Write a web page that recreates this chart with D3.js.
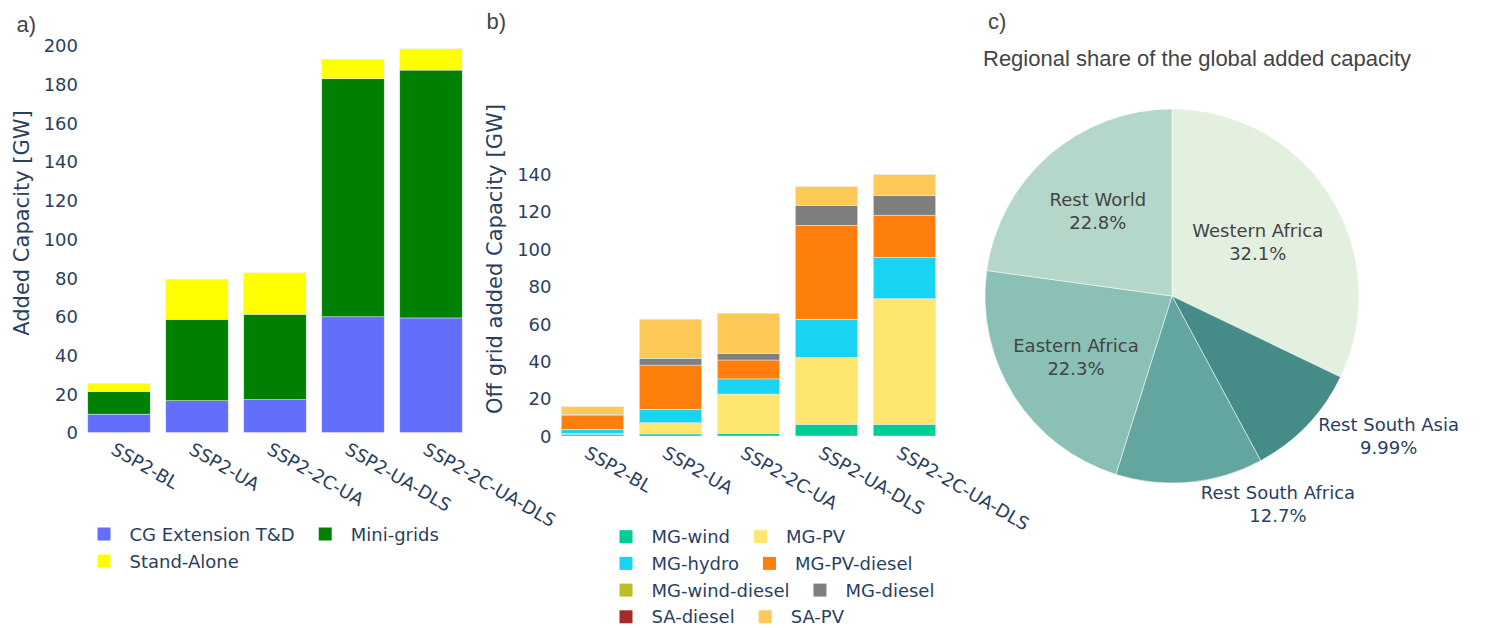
<!DOCTYPE html>
<html>
<head>
<meta charset="utf-8">
<script src="https://cdn.jsdelivr.net/npm/d3@7"></script>
<style>
  body { margin: 0; background: #fff; }
  svg { display: block; }
</style>
</head>
<body>
<svg id="chart" width="1504" height="628"></svg>
<script>
// Scenarios shared by panels a) and b)
const scenarios = ["SSP2-BL", "SSP2-UA", "SSP2-2C-UA", "SSP2-UA-DLS", "SSP2-2C-UA-DLS"];

// Panel a) added capacity by technology group [GW]
const cgExtension = [9.5, 16.4, 17.0, 59.8, 59.2];
const miniGrids   = [11.6, 42.1, 44.1, 123.0, 128.1];
const standAlone  = [4.3, 20.7, 21.5, 10.1, 11.0];
const ticksA = [0, 20, 40, 60, 80, 100, 120, 140, 160, 180, 200];

// Panel b) off-grid added capacity by technology [GW]
const mgWind       = [1.0, 1.1, 1.4, 6.2, 6.2];
const mgPV         = [0.2, 6.0, 21.0, 35.8, 67.2];
const mgHydro      = [2.4, 7.2, 8.1, 20.4, 22.1];
const mgPVDiesel   = [7.6, 23.6, 10.1, 50.2, 22.5];
const mgWindDiesel = [0, 0, 0, 0, 0];
const mgDiesel     = [0.4, 3.6, 3.6, 10.7, 10.4];
const saDiesel     = [0, 0, 0, 0, 0];
const saPV         = [4.1, 20.9, 21.4, 10.0, 11.3];
const ticksB = [0, 20, 40, 60, 80, 100, 120, 140];

// Panel c) regional share of the global added capacity [%]
const regions = ["Western Africa", "Rest South Asia", "Rest South Africa", "Eastern Africa", "Rest World"];
const shares  = [32.1, 9.99, 12.7, 22.3, 22.8];

const svg = d3.select("#chart");
svg.append("rect").attr("width", 1504).attr("height", 628).attr("fill", "#fff");

const AXIS_COLOR = "#2a3f5f";
const SANS = "'DejaVu Sans', Verdana, sans-serif";
const ARIAL = "'Liberation Sans', Arial, sans-serif";

function stackedPanel(cfg) {
  const g = svg.append("g");
  const x = d3.scaleBand().domain(scenarios)
    .range([cfg.x0, cfg.x1]).paddingInner(0.2).paddingOuter(0.1);
  const y = d3.scaleLinear().domain([0, cfg.yMax]).range([cfg.y0, cfg.y1]);

  const rows = scenarios.map((s, i) => {
    const r = { scenario: s };
    cfg.series.forEach(se => { r[se.name] = se.values[i]; });
    return r;
  });
  const stacked = d3.stack().keys(cfg.series.map(s => s.name))(rows);

  stacked.forEach((layer, li) => {
    g.append("g").attr("fill", cfg.series[li].color)
      .selectAll("rect").data(layer).join("rect")
      .filter(d => d[1] - d[0] > 0)
      .attr("x", d => x(d.data.scenario))
      .attr("width", x.bandwidth())
      .attr("y", d => y(d[1]))
      .attr("height", d => y(d[0]) - y(d[1]))
      .attr("stroke", "#e5ecf6").attr("stroke-width", 0.5);
  });

  // y axis
  const ya = g.append("g").attr("transform", `translate(${cfg.x0},0)`)
    .call(d3.axisLeft(y).tickValues(cfg.ticks).tickSize(0).tickPadding(2));
  ya.select(".domain").remove();
  ya.selectAll("text").attr("font-family", SANS).attr("font-size", 18)
    .attr("fill", AXIS_COLOR).attr("dy", "0.35em");

  // x axis, labels rotated by 30 degrees
  const xa = g.append("g").attr("transform", `translate(0,${cfg.y0 + 4.5})`)
    .call(d3.axisBottom(x).tickSize(0).tickPadding(0));
  xa.select(".domain").remove();
  xa.selectAll("text").attr("font-family", SANS).attr("font-size", 18)
    .attr("fill", AXIS_COLOR).attr("text-anchor", "start")
    .attr("x", 0).attr("y", 0).attr("dy", "1.02em")
    .attr("transform", "rotate(30)");

  // y axis title
  g.append("text")
    .attr("transform", `translate(${cfg.titleX},${cfg.titleY}) rotate(-90)`)
    .attr("text-anchor", "middle").attr("dominant-baseline", "central")
    .attr("font-family", SANS).attr("font-size", 21).attr("fill", AXIS_COLOR)
    .text(cfg.title);

  // legend: rows of up to two entries
  cfg.legendRows.forEach((row, ri) => {
    let lx = cfg.legendX;
    const ly = cfg.legendY + ri * cfg.legendStep;
    row.forEach(name => {
      const se = cfg.series.find(s => s.name === name);
      g.append("rect").attr("x", lx).attr("y", ly - 6.5)
        .attr("width", 13).attr("height", 13).attr("fill", se.color);
      const t = g.append("text").attr("x", lx + 32).attr("y", ly)
        .attr("dominant-baseline", "central")
        .attr("font-family", SANS).attr("font-size", 18).attr("fill", AXIS_COLOR)
        .text(name);
      lx = lx + 32 + t.node().getComputedTextLength() + 24;
    });
  });
}

stackedPanel({
  x0: 80, x1: 470, y0: 432.5, y1: 45.5, yMax: 200, ticks: ticksA,
  title: "Added Capacity [GW]", titleX: 22, titleY: 223,
  series: [
    { name: "CG Extension T&D", values: cgExtension, color: "#636efa" },
    { name: "Mini-grids", values: miniGrids, color: "#008000" },
    { name: "Stand-Alone", values: standAlone, color: "#ffff00" }
  ],
  legendRows: [["CG Extension T&D", "Mini-grids"], ["Stand-Alone"]],
  legendX: 97.5, legendY: 534, legendStep: 27
});

stackedPanel({
  x0: 553.5, x1: 943.5, y0: 436, y1: 174, yMax: 140, ticks: ticksB,
  title: "Off grid added Capacity [GW]", titleX: 495, titleY: 259,
  series: [
    { name: "MG-wind", values: mgWind, color: "#00cc96" },
    { name: "MG-PV", values: mgPV, color: "#fee66f" },
    { name: "MG-hydro", values: mgHydro, color: "#19d3f3" },
    { name: "MG-PV-diesel", values: mgPVDiesel, color: "#ff7f0e" },
    { name: "MG-wind-diesel", values: mgWindDiesel, color: "#bcbd22" },
    { name: "MG-diesel", values: mgDiesel, color: "#7f7f7f" },
    { name: "SA-diesel", values: saDiesel, color: "#a52a2a" },
    { name: "SA-PV", values: saPV, color: "#fec957" }
  ],
  legendRows: [["MG-wind", "MG-PV"], ["MG-hydro", "MG-PV-diesel"],
               ["MG-wind-diesel", "MG-diesel"], ["SA-diesel", "SA-PV"]],
  legendX: 619.5, legendY: 536.7, legendStep: 26.7
});

// Panel c) pie
const pieColors = ["#e3efdf", "#458b87", "#63a59f", "#8ac0b5", "#b4d7ca"];
const cx = 1172, cy = 296, R = 187;
const pg = svg.append("g").attr("transform", `translate(${cx},${cy})`);
const arcs = d3.pie().sort(null).value(d => d)(shares);
const arc = d3.arc().innerRadius(0).outerRadius(R);

pg.selectAll("path").data(arcs).join("path")
  .attr("d", arc)
  .attr("fill", (d, i) => pieColors[i])
  .attr("stroke", "#ffffff").attr("stroke-width", 0.5);

arcs.forEach((a, i) => {
  const mid = (a.startAngle + a.endAngle) / 2;
  const half = (a.endAngle - a.startAngle) / 2;
  const px = R * Math.sin(mid), py = -R * Math.cos(mid);
  const lg = pg.append("g");
  const t = lg.append("text").attr("text-anchor", "middle")
    .attr("font-family", SANS).attr("font-size", 18);
  t.append("tspan").attr("x", 0).attr("y", -11.7).attr("dominant-baseline", "central").text(regions[i]);
  t.append("tspan").attr("x", 0).attr("y", 11.7).attr("dominant-baseline", "central").text(shares[i] + "%");
  const bb = t.node().getBBox();
  const w = bb.width, h = bb.height;
  const rIns = Math.min(1 / (1 + 1 / Math.sin(half)), 0.5);
  let tx, ty;
  if (rIns * R * 2 >= Math.sqrt(w * w + h * h)) {
    // text fits inside the slice
    tx = px * (1 - rIns);
    ty = py * (1 - rIns);
    t.attr("fill", "#444");
  } else {
    // outside label next to the slice
    let dx = w / 2, dy = h / 2;
    if (px < 0) dx *= -1;
    if (py < 0) dy *= -1;
    tx = px + dx + Math.abs(dy) * (dx > 0 ? 1 : -1) / 2;
    ty = py + dy / (1 + px * px / (py * py));
    t.attr("fill", AXIS_COLOR);
  }
  lg.attr("transform", `translate(${tx},${ty})`);
});

svg.append("text").attr("x", 983).attr("y", 66)
  .attr("font-family", ARIAL).attr("font-size", 22).attr("fill", "#444")
  .text("Regional share of the global added capacity");

// panel letters
[["a)", 16.5, 31.5], ["b)", 486.5, 28.5], ["c)", 988, 28.5]].forEach(([s, lx, ly]) => {
  svg.append("text").attr("x", lx).attr("y", ly)
    .attr("font-family", ARIAL).attr("font-size", 22).attr("fill", "#444").text(s);
});
</script>
</body>
</html>
